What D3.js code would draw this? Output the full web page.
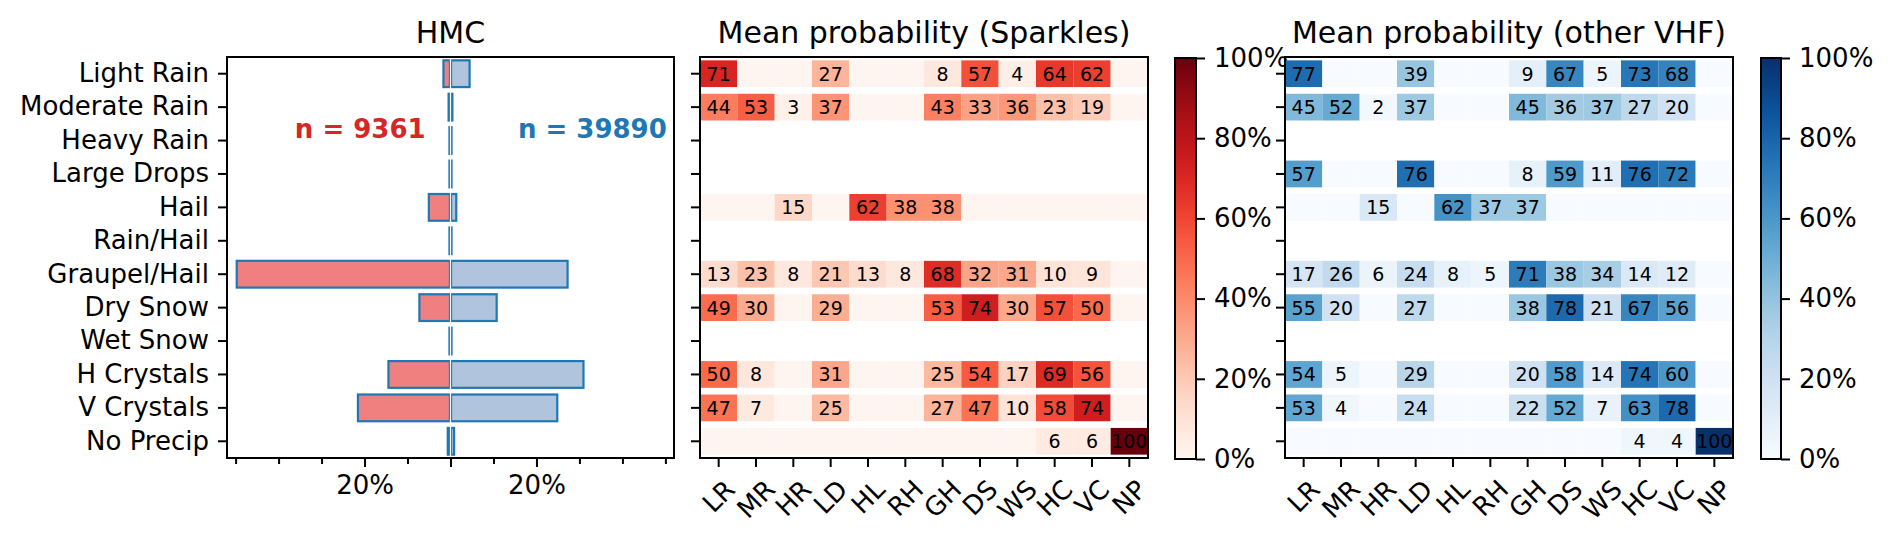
<!DOCTYPE html>
<html>
<head>
<meta charset="utf-8">
<script src="https://cdn.jsdelivr.net/npm/d3@7"></script>
<style>
  body { margin: 0; background: #fff; }
  svg { display: block; font-family: "DejaVu Sans", sans-serif; }
</style>
</head>
<body>
<svg id="chart" width="1892" height="536"></svg>
<script>
// hydrometeor classes (rows) and their short names (heatmap columns)
const classes = ["Light Rain", "Moderate Rain", "Heavy Rain", "Large Drops", "Hail", "Rain/Hail",
                 "Graupel/Hail", "Dry Snow", "Wet Snow", "H Crystals", "V Crystals", "No Precip"];
const abbrevs = ["LR", "MR", "HR", "LD", "HL", "RH", "GH", "DS", "WS", "HC", "VC", "NP"];

// HMC class frequency (%), sparkles vs other VHF
const hmcSparkles = [1.5, 0.3, 0.1, 0.1, 4.9, 0.1, 49.6, 7.1, 0.1, 14.3, 21.4, 0.5];
const hmcOther    = [4.3, 0.3, 0.1, 0.1, 1.2, 0.1, 27.1, 10.6, 0.1, 30.8, 24.7, 0.7];
const nSparkles = 9361;
const nOther = 39890;

// mean probability (%) per HMC row (null = no data)
const probSparkles = [
  [71, 0, 0, 27, 0, 0, 8, 57, 4, 64, 62, 0],
  [44, 53, 3, 37, 0, 0, 43, 33, 36, 23, 19, 0],
  null,
  null,
  [0, 0, 15, 0, 62, 38, 38, 0, 0, 0, 0, 0],
  null,
  [13, 23, 8, 21, 13, 8, 68, 32, 31, 10, 9, 0],
  [49, 30, 0, 29, 0, 0, 53, 74, 30, 57, 50, 0],
  null,
  [50, 8, 0, 31, 0, 0, 25, 54, 17, 69, 56, 0],
  [47, 7, 0, 25, 0, 0, 27, 47, 10, 58, 74, 0],
  [0, 0, 0, 0, 0, 0, 0, 0, 0, 6, 6, 100]
];
const probOther = [
  [77, 0, 0, 39, 0, 0, 9, 67, 5, 73, 68, 0],
  [45, 52, 2, 37, 0, 0, 45, 36, 37, 27, 20, 0],
  null,
  [57, 0, 0, 76, 0, 0, 8, 59, 11, 76, 72, 0],
  [0, 0, 15, 0, 62, 37, 37, 0, 0, 0, 0, 0],
  null,
  [17, 26, 6, 24, 8, 5, 71, 38, 34, 14, 12, 0],
  [55, 20, 0, 27, 0, 0, 38, 78, 21, 67, 56, 0],
  null,
  [54, 5, 0, 29, 0, 0, 20, 58, 14, 74, 60, 0],
  [53, 4, 0, 24, 0, 0, 22, 52, 7, 63, 78, 0],
  [0, 0, 0, 0, 0, 0, 0, 0, 0, 4, 4, 100]
];

const hmcMajorTicks = [-20, 0, 20];
const hmcMinorTicks = [-50, -40, -30, -10, 10, 30, 40, 50];
const cbarTicks = [0, 20, 40, 60, 80, 100];

const svg = d3.select("#chart");
const plotTop = 57, plotBottom = 458;
const tickLen = 9, tickPad = 9, labelSize = 26;

const y = d3.scaleBand().domain(classes).range([plotTop, plotBottom]);
const step = y.step();

function styleAxis(g) {
  g.select(".domain").remove();
  g.selectAll(".tick line").attr("stroke", "#000").attr("stroke-width", 2);
  g.selectAll(".tick text").attr("fill", "#000").style("font-size", labelSize + "px")
    .style("font-family", "DejaVu Sans");
}

function frame(x0, x1) {
  svg.append("rect").attr("x", x0).attr("y", plotTop).attr("width", x1 - x0)
    .attr("height", plotBottom - plotTop)
    .attr("fill", "none").attr("stroke", "#000").attr("stroke-width", 2);
}

function title(txt, cx) {
  svg.append("text").attr("x", cx).attr("y", 43).attr("text-anchor", "middle")
    .style("font-size", "30px").attr("fill", "#000").text(txt);
}

// ---- HMC panel ----
const xh = d3.scaleLinear().domain([-52, 52]).range([227, 674]);
const hmc = svg.append("g");

hmc.selectAll("rect.sp").data(hmcSparkles).join("rect").attr("class", "sp")
  .attr("x", d => xh(-d) - 0.6).attr("width", d => xh(0) - xh(-d))
  .attr("y", (d, i) => y(classes[i]) + step * 0.1).attr("height", step * 0.8)
  .attr("fill", "#f08080").attr("stroke", "#1f77b4").attr("stroke-width", 2.2);
hmc.selectAll("rect.ot").data(hmcOther).join("rect").attr("class", "ot")
  .attr("x", xh(0) + 0.6).attr("width", d => xh(d) - xh(0))
  .attr("y", (d, i) => y(classes[i]) + step * 0.1).attr("height", step * 0.8)
  .attr("fill", "#b0c4de").attr("stroke", "#1f77b4").attr("stroke-width", 2.2);
hmc.append("line").attr("x1", xh(0)).attr("x2", xh(0)).attr("y1", plotTop).attr("y2", plotBottom)
  .attr("stroke", "#fff").attr("stroke-width", 1.2);

hmc.append("text").attr("x", xh(-21)).attr("y", y(classes[2]) + step * 0.16)
  .attr("text-anchor", "middle").attr("dominant-baseline", "central")
  .style("font-size", "26px").style("font-weight", "bold").attr("fill", "#d62728")
  .text("n = " + nSparkles);
hmc.append("text").attr("x", xh(33)).attr("y", y(classes[2]) + step * 0.16)
  .attr("text-anchor", "middle").attr("dominant-baseline", "central")
  .style("font-size", "26px").style("font-weight", "bold").attr("fill", "#1f77b4")
  .text("n = " + nOther);

svg.append("g").attr("transform", `translate(227,0)`)
  .call(d3.axisLeft(y).tickSize(tickLen).tickPadding(tickPad).tickSizeOuter(0))
  .call(styleAxis);
svg.append("g").attr("transform", `translate(0,${plotBottom})`)
  .call(d3.axisBottom(xh).tickValues(hmcMinorTicks).tickSize(6).tickFormat(""))
  .call(styleAxis);
svg.append("g").attr("transform", `translate(0,${plotBottom})`)
  .call(d3.axisBottom(xh).tickValues(hmcMajorTicks).tickSize(tickLen).tickPadding(tickPad)
    .tickFormat(d => d === 0 ? "" : Math.abs(d) + "%"))
  .call(styleAxis);
frame(227, 674);
title("HMC", (227 + 674) / 2);

// ---- heatmap panels ----
function heatmap(data, x0, x1, interp, ttl, cb0, cb1, gid) {
  const x = d3.scaleBand().domain(abbrevs).range([x0, x1]);
  const color = d3.scaleSequential(interp).domain([0, 100]);
  const g = svg.append("g");
  data.forEach((row, i) => {
    if (!row) return;
    const rg = g.append("g");
    rg.selectAll("rect").data(row).join("rect")
      .attr("x", (d, j) => x(abbrevs[j])).attr("width", x.bandwidth())
      .attr("y", y(classes[i]) + step * 0.1).attr("height", step * 0.8)
      .attr("fill", d => color(d));
    rg.selectAll("text").data(row).join("text")
      .attr("x", (d, j) => x(abbrevs[j]) + x.bandwidth() / 2)
      .attr("y", y(classes[i]) + step / 2)
      .attr("text-anchor", "middle").attr("dominant-baseline", "central")
      .style("font-size", "19px").attr("fill", "#000")
      .text(d => d > 0 ? d : "");
  });

  svg.append("g").attr("transform", `translate(${x0},0)`)
    .call(d3.axisLeft(y).tickSize(tickLen).tickFormat("").tickSizeOuter(0))
    .call(styleAxis);
  const xa = svg.append("g").attr("transform", `translate(0,${plotBottom})`)
    .call(d3.axisBottom(x).tickSize(tickLen).tickSizeOuter(0))
    .call(styleAxis);
  // rotated, centred labels (45 degrees)
  xa.selectAll(".tick text").each(function () {
    const t = d3.select(this);
    const w = this.getComputedTextLength();
    const h = labelSize * 0.95;
    const off = tickLen + tickPad + (w + h) / (2 * Math.SQRT2);
    t.attr("y", null).attr("dy", null).attr("dominant-baseline", "central")
      .attr("transform", `translate(0,${off}) rotate(-45)`);
  });
  frame(x0, x1);
  title(ttl, (x0 + x1) / 2);

  // colorbar
  const cb = d3.scaleLinear().domain([0, 100]).range([459, 58]);
  const grad = svg.append("defs").append("linearGradient").attr("id", gid)
    .attr("x1", 0).attr("y1", 1).attr("x2", 0).attr("y2", 0);
  d3.range(0, 1.0001, 0.05).forEach(t => {
    grad.append("stop").attr("offset", t).attr("stop-color", interp(t));
  });
  svg.append("rect").attr("x", cb0).attr("y", cb(100)).attr("width", cb1 - cb0)
    .attr("height", cb(0) - cb(100)).attr("fill", `url(#${gid})`)
    .attr("stroke", "#000").attr("stroke-width", 2);
  svg.append("g").attr("transform", `translate(${cb1},0)`)
    .call(d3.axisRight(cb).tickValues(cbarTicks).tickSize(tickLen).tickPadding(tickPad)
      .tickFormat(d => d + "%"))
    .call(styleAxis);
}

heatmap(probSparkles, 700, 1148, d3.interpolateReds, "Mean probability (Sparkles)", 1175, 1196, "gReds");
heatmap(probOther, 1285, 1733, d3.interpolateBlues, "Mean probability (other VHF)", 1761, 1781, "gBlues");
</script>
</body>
</html>
